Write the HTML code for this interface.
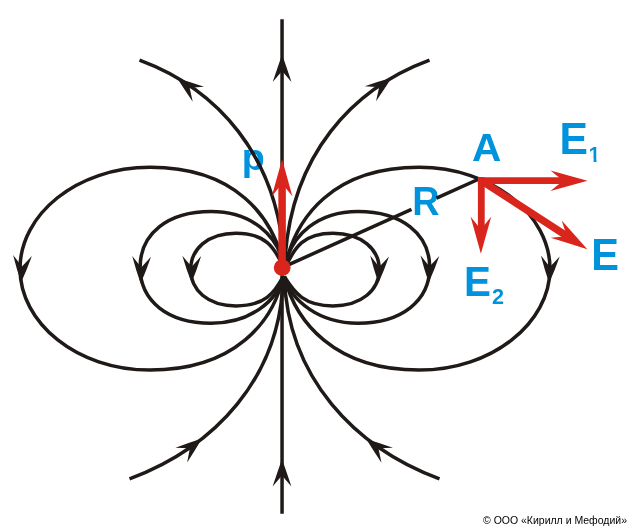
<!DOCTYPE html>
<html lang="ru">
<head>
<meta charset="utf-8">
<title>Electric dipole field</title>
<style>
html,body{margin:0;padding:0;background:#fff;}
body{width:633px;height:532px;overflow:hidden;}
svg{display:block;will-change:transform;}
</style>
</head>
<body>
<svg width="633" height="532" viewBox="0 0 633 532">
<rect width="633" height="532" fill="#fff"/>
<g fill="#0093DD" font-family="'Liberation Sans', sans-serif" font-weight="bold">
<text transform="translate(241.8,169.8) scale(1.040,1)" font-size="36.2">p</text>
<text transform="translate(472,160.8) scale(1.027,1)" font-size="39.5">A</text>
<text transform="translate(412.2,214.8) scale(0.946,1)" font-size="40">R</text>
<text transform="translate(559.5,154.1) scale(0.980,1)" font-size="43.5">E</text>
<clipPath id="c1"><polygon points="0,-15.9 7.89,-15.9 7.89,0.42 4.9,0.42 4.9,-2.97 0,-2.97"/></clipPath>
<g transform="translate(588.6,161.7) scale(1.020,1)"><text clip-path="url(#c1)" font-size="21.2">1</text></g>
<text transform="translate(591.3,270.2) scale(0.955,1)" font-size="43.5">E</text>
<text transform="translate(464.1,295.9) scale(0.930,1)" font-size="43.4">E</text>
<text x="491.9" y="303.9" font-size="21.6">2</text>
</g>
<g fill="none" stroke="#1F1A17" stroke-width="3.5" stroke-linecap="butt" stroke-linejoin="round">
<path d="M282.05,19.2 L282.05,513.8"/>
<path d="M284.5,268.7 C273.6,215.9 235,167.3 150,167.3 C76.5,167.3 20,214.7 20,268.7 C20,322.7 76.5,370.1 150,370.1 C235,370.1 273.6,321.5 283.1,276.5"/>
<path d="M284.5,267.35 C277.7,234.15 250.4,211.5 211,211.5 C167.5,211.5 140.1,233.85 140.1,267.35 C140.1,300.85 167.5,323.2 211,323.2 C250.4,323.2 277.7,300.55 283.1,276.5"/>
<path d="M284.5,269.55 C274.6,246.25 264.6,233.2 236.1,233.2 C207.1,233.2 190.7,249.45 190.7,269.55 C190.7,289.65 207.1,305.9 236.1,305.9 C264.6,305.9 274.6,292.85 283.1,276.5"/>
<path d="M139.5,60.2 C214.2,87.8 280.4,153.8 284.5,268.5"/>
<path d="M129.5,478.8 C213.7,447.5 281.3,378.2 283.1,276.5"/>
<path d="M284.5,268.7 C295.4,215.9 334,167.3 419,167.3 C492.5,167.3 550,214.7 550,268.7 C550,322.7 492.5,370.1 419,370.1 C334,370.1 295.4,321.5 284.3,276.5"/>
<path d="M284.5,267.35 C291.3,234.15 318.6,211.5 358,211.5 C401.5,211.5 429.7,233.85 429.7,267.35 C429.7,300.85 401.5,323.2 358,323.2 C318.6,323.2 291.3,300.55 284.3,276.5"/>
<path d="M284.5,269.55 C294.4,246.25 304.4,233.2 332.9,233.2 C361.9,233.2 379.3,249.45 379.3,269.55 C379.3,289.65 361.9,305.9 332.9,305.9 C304.4,305.9 294.4,292.85 284.3,276.5"/>
<path d="M429.5,60.2 C354.8,87.8 288.6,153.8 284.5,268.5"/>
<path d="M439.5,478.8 C355.3,447.5 287.7,378.2 284.3,276.5"/>
<path d="M282.2,267.6 L411.5,209.4"/>
<path d="M436.5,198.2 L479,179"/>
</g>
<path d="M0,0 Q-13.72,4.79 -27.5,9.4 Q-22,4.7 -16.5,0 Q-22,-4.7 -27.5,-9.4 Q-13.72,-4.79 0,0Z" fill="#1F1A17" transform="translate(282.1,54.5) rotate(-90)"/>
<path d="M0,0 Q-13.72,4.79 -27.5,9.4 Q-22,4.7 -16.5,0 Q-22,-4.7 -27.5,-9.4 Q-13.72,-4.79 0,0Z" fill="#1F1A17" transform="translate(282,458.9) rotate(-90)"/>
<path d="M0,0 Q-13.3,5.27 -27,9.4 Q-21.5,4.7 -16,0 Q-21.5,-4.7 -27,-9.4 Q-13.3,-5.27 0,0Z" fill="#1F1A17" transform="translate(21.09,282.46) rotate(93)"/>
<path d="M0,0 Q-13.3,5.27 -27,9.4 Q-21.5,4.7 -16,0 Q-21.5,-4.7 -27,-9.4 Q-13.3,-5.27 0,0Z" fill="#1F1A17" transform="translate(140.66,283.38) rotate(92)"/>
<path d="M0,0 Q-13.3,5.27 -27,9.4 Q-21.5,4.7 -16,0 Q-21.5,-4.7 -27,-9.4 Q-13.3,-5.27 0,0Z" fill="#1F1A17" transform="translate(191.51,282.8) rotate(90.5)"/>
<path d="M0,0 Q-13.3,5.27 -27,9.4 Q-21.5,4.7 -16,0 Q-21.5,-4.7 -27,-9.4 Q-13.3,-5.27 0,0Z" fill="#1F1A17" transform="translate(378.42,282.97) rotate(92.5)"/>
<path d="M0,0 Q-13.3,5.27 -27,9.4 Q-21.5,4.7 -16,0 Q-21.5,-4.7 -27,-9.4 Q-13.3,-5.27 0,0Z" fill="#1F1A17" transform="translate(428.72,282.57) rotate(92.5)"/>
<path d="M0,0 Q-13.3,5.27 -27,9.4 Q-21.5,4.7 -16,0 Q-21.5,-4.7 -27,-9.4 Q-13.3,-5.27 0,0Z" fill="#1F1A17" transform="translate(549.12,282.97) rotate(92.5)"/>
<path d="M0,0 Q-13.15,4.98 -26.5,9.4 Q-21,4.7 -15.5,0 Q-21,-4.7 -26.5,-9.4 Q-13.15,-4.98 0,0Z" fill="#1F1A17" transform="translate(177.24,78.35) rotate(-143)"/>
<path d="M0,0 Q-13.15,4.98 -26.5,9.4 Q-21,4.7 -15.5,0 Q-21,-4.7 -26.5,-9.4 Q-13.15,-4.98 0,0Z" fill="#1F1A17" transform="translate(391.65,77.86) rotate(-36.7)"/>
<path d="M0,0 Q-13.15,4.98 -26.5,9.4 Q-21,4.7 -15.5,0 Q-21,-4.7 -26.5,-9.4 Q-13.15,-4.98 0,0Z" fill="#1F1A17" transform="translate(202.01,438.57) rotate(-38.6)"/>
<path d="M0,0 Q-13.15,4.98 -26.5,9.4 Q-21,4.7 -15.5,0 Q-21,-4.7 -26.5,-9.4 Q-13.15,-4.98 0,0Z" fill="#1F1A17" transform="translate(366.2,439.03) rotate(-142.4)"/>
<g fill="none" stroke="#DA251D" stroke-linecap="butt">
<path d="M282.1,267 L282.1,179.3" stroke-width="7.5"/>
<path d="M477.9,180.6 L567.5,180.6" stroke-width="6.7"/>
<path d="M481.3,177.1 L481.3,233.7" stroke-width="6.8"/>
<path d="M481.3,180.7 L570.5,238.4" stroke-width="7.3"/>
</g>
<path d="M0,0 Q-18.5,5.15 -37,10.3 Q-30.69,4.91 -24,0 Q-30.69,-4.91 -37,-10.3 Q-18.5,-5.15 0,0Z" fill="#DA251D" transform="translate(282.1,159.3) rotate(-90)"/>
<path d="M0,0 Q-18.5,5.15 -37,10.3 Q-30.69,4.91 -24,0 Q-30.69,-4.91 -37,-10.3 Q-18.5,-5.15 0,0Z" fill="#DA251D" transform="translate(587.5,180.7) rotate(0)"/>
<path d="M0,0 Q-18.5,5.15 -37,10.3 Q-30.69,4.91 -24,0 Q-30.69,-4.91 -37,-10.3 Q-18.5,-5.15 0,0Z" fill="#DA251D" transform="translate(480.9,253.7) rotate(90)"/>
<path d="M0,0 Q-18.5,5.15 -37,10.3 Q-30.69,4.91 -24,0 Q-30.69,-4.91 -37,-10.3 Q-18.5,-5.15 0,0Z" fill="#DA251D" transform="translate(587.3,249.2) rotate(32.75)"/>
<circle cx="282.2" cy="267.6" r="8.4" fill="#DA251D"/>
<text x="483" y="523.7" font-size="11" fill="#000" font-family="'Liberation Sans', sans-serif" textLength="144" lengthAdjust="spacingAndGlyphs">© ООО «Кирилл и Мефодий»</text>
</svg>
</body>
</html>
